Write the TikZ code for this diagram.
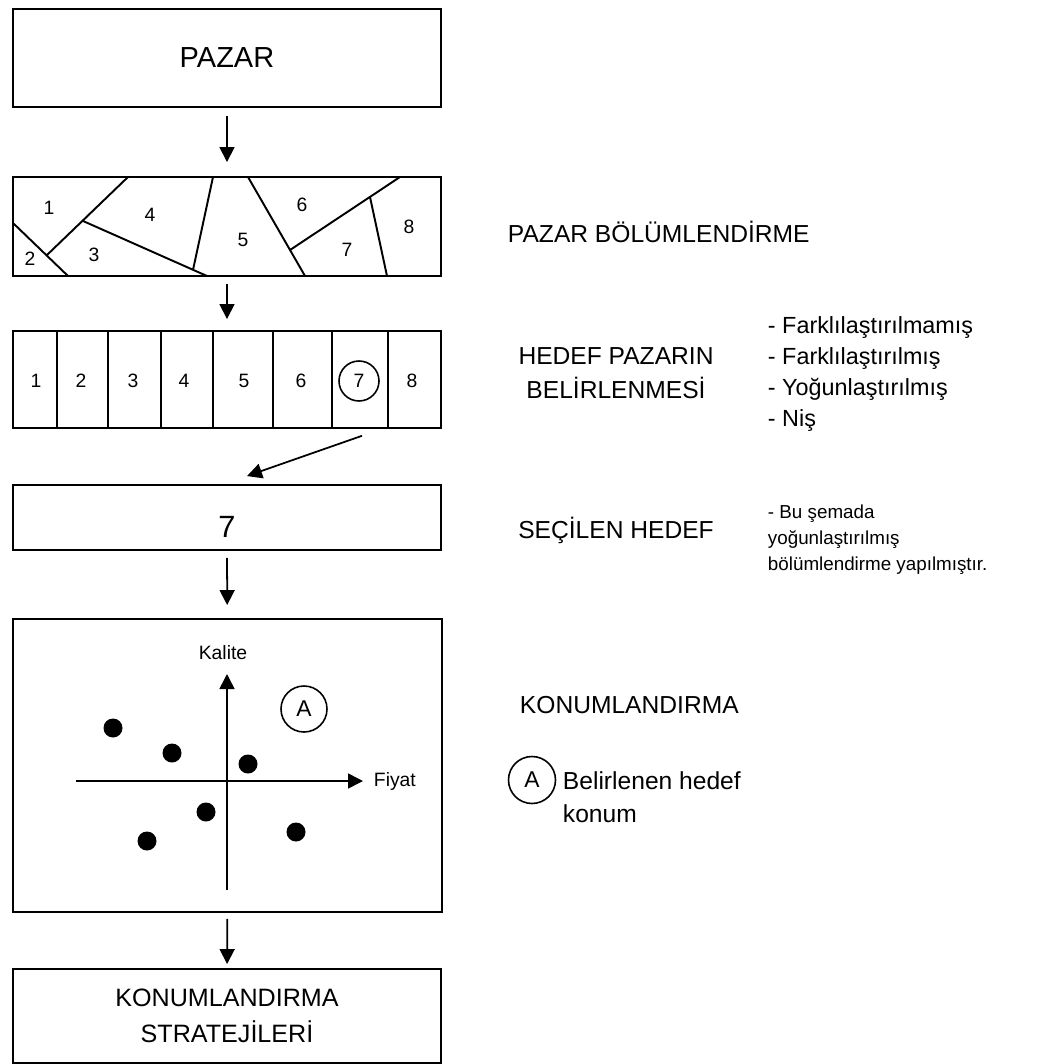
\documentclass[tikz,border=0pt]{standalone}
\usepackage{fontspec}
\setmainfont{Liberation Sans}
\usetikzlibrary{arrows.meta}

\begin{document}
\begin{tikzpicture}[x=0.2mm, y=-0.2mm, line width=1.1pt,
	every node/.style={font=\fontsize{14}{19}\selectfont, inner sep=0pt},
	box/.style={draw, minimum width=8.56cm, anchor=center},
	num/.style={font=\fontsize{11}{13}\selectfont},
	ring/.style={draw, circle, line width=0.9pt},
	dot/.style={fill, circle, minimum size=0.38cm},
	arr/.style={-{Triangle[length=0.3cm, width=0.3cm]}, line width=1pt, shorten <=0.15cm, shorten >=0.2cm},
	axis/.style={-{Triangle[length=0.3cm, width=0.3cm]}, line width=0.9pt}]
	\useasboundingbox (0,0) rectangle (1038,1064);

	\node[box, minimum height=1.96cm, font=\fontsize{16.5}{20}\selectfont] (mkt) at (227,58) {PAZAR};

	\node[box, minimum height=1.98cm] (seg) at (227,226.5) {};
	\draw (128,177) -- (47,255) (13,223) -- (68,276) (83,221) -- (207,276) (213,177) -- (193,270) (248,177) -- (305,276) (290,250) -- (400,177) (370,197) -- (387,276);
	\foreach \x/\y/\n in {49/208/1, 30/259/2, 94/255/3, 150/215/4, 243/240/5, 302/205/6, 347/250/7, 409/227/8}
		\node[num] (s\n) at (\x,\y) {\n};

	\node[box, minimum height=1.94cm] (tgt) at (227,379.5) {};
	\foreach \x in {57,108,161,213,273,332,388}
		\draw (\x,331) -- (\x,428);
	\foreach \x/\n in {36/1,81/2,133/3,184/4,244/5,301/6,359/7,412/8}
		\node[num] (t\n) at (\x,381) {\n};
	\node[ring, minimum size=0.8cm] (pick) at (t7) {};

	\node[box, minimum height=1.3cm] (sel) at (227,517.5) {};
	\node[font=\fontsize{17.5}{20}\selectfont] (selnum) at (227,527) {7};

	\node[box, minimum width=8.58cm, minimum height=5.86cm] (pos) at (227.5,765.5) {};
	\coordinate (xl) at (76,781);
	\coordinate (xr) at (363,781);
	\coordinate (yb) at (227,890);
	\coordinate (yt) at (227,674);
	\draw[axis] (xl) -- (xr);
	\draw[axis] (yb) -- (yt);
	\node[num] (kal) at (223,653) {Kalite};
	\node[num, anchor=west] (fiy) at (373,781) {Fiyat};
	\foreach \x/\y [count=\i] in {113/728, 172/753, 248/764, 206/812, 147/841, 296/832}
		\node[dot] (d\i) at (\x,\y) {};
	\node[ring, minimum size=0.92cm, font=\fontsize{13}{15}\selectfont] (posA) at (304,709) {A};

	\node[box, minimum height=1.88cm, align=center, font=\fontsize{14.3}{20.5}\selectfont] (strat) at (227,1016) {KONUMLANDIRMA\\STRATEJİLERİ};

	\draw[arr, shorten <=0.16cm, shorten >=0.28cm] (mkt) -- (seg);
	\draw[arr, shorten <=0.14cm, shorten >=0.22cm] (seg) -- (tgt);
	\draw[arr, shorten <=0pt, shorten >=0pt] ([xshift=0.06cm, yshift=-0.68cm]pick.south) -- ([xshift=0.4cm, yshift=0.16cm]sel.north);
	\draw[arr, shorten <=0.14cm, shorten >=0.26cm] (sel) -- (pos);
	\draw[arr, shorten <=0.12cm, shorten >=0.08cm] (pos) -- (strat);

	\node[anchor=west] (seglbl) at (507,232) {PAZAR BÖLÜMLENDİRME};
	\node[align=center] (hdflbl) at (616,373) {HEDEF PAZARIN\\BELİRLENMESİ};
	\node[anchor=west, align=left, font=\fontsize{13.3}{17.8}\selectfont] (kinds) at (767,374) {- Farklılaştırılmamış\\- Farklılaştırılmış\\- Yoğunlaştırılmış\\- Niş};
	\node (sellbl) at (616,530) {SEÇİLEN HEDEF};
	\node[anchor=west, align=left, font=\fontsize{10.7}{14.8}\selectfont] (note) at (767,540) {- Bu şemada\\yoğunlaştırılmış\\bölümlendirme yapılmıştır.};
	\node[anchor=west] (poslbl) at (519,705) {KONUMLANDIRMA};
	\node[ring, minimum size=0.94cm, font=\fontsize{13}{15}\selectfont] (keyA) at (532,780) {A};
	\node[anchor=west, align=left] (keytxt) at (562,797) {Belirlenen hedef\\konum};
\end{tikzpicture}
\end{document}
